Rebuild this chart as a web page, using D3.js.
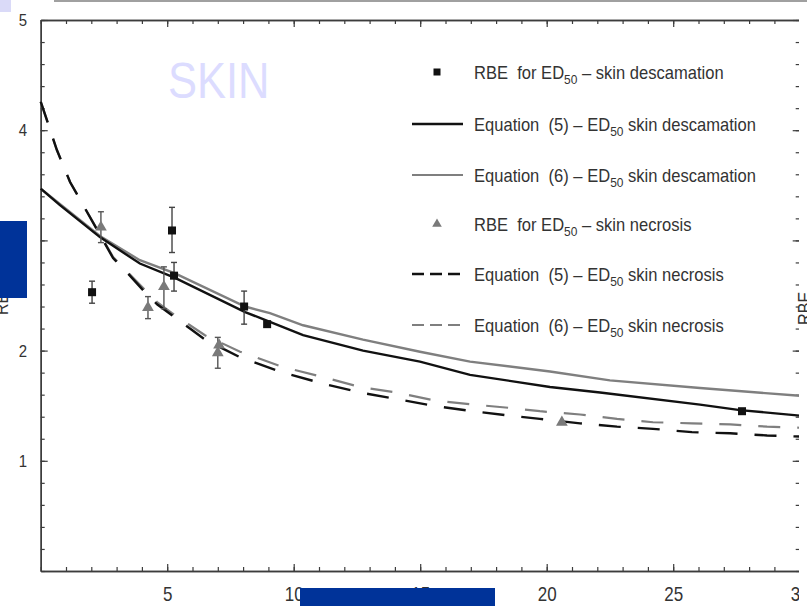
<!DOCTYPE html>
<html>
<head>
<meta charset="utf-8">
<script src="https://cdn.jsdelivr.net/npm/d3@7"></script>
<style>
  body { margin: 0; background: #fff; }
  svg { display: block; }
  text { font-family: "Liberation Sans", Arial, sans-serif; }
</style>
</head>
<body>
<svg id="chart" width="807" height="606"></svg>
<script>
// ---- axis ticks ----
const xMajorTicks = [5, 10, 15, 20, 25, 30];
const yMajorTicks = [1, 2, 3, 4, 5];

// ---- model curves: [dose per fraction, RBE] ----
const eq5Descamation = [[0,3.47],[0.76,3.32],[2.34,3.03],[3.92,2.79],[5.31,2.66],[8.08,2.35],[9.06,2.26],[10.37,2.14],[12.74,2.00],[14.99,1.90],[16.97,1.78],[20.13,1.67],[22.11,1.62],[26.06,1.51],[27.64,1.46],[30,1.41]];
const eq6Descamation = [[0,3.47],[2.34,3.04],[3.92,2.82],[5.31,2.70],[8.08,2.40],[9.06,2.34],[10.37,2.23],[12.74,2.10],[14.99,1.99],[16.97,1.90],[20.13,1.81],[22.5,1.73],[26.06,1.66],[30,1.59]];
const eq5Necrosis = [[0,4.26],[0.64,3.82],[1.16,3.53],[1.63,3.34],[2.86,2.84],[3.45,2.70],[4.0,2.56],[4.6,2.42],[5.19,2.32],[5.9,2.20],[6.49,2.10],[7.88,1.94],[9.58,1.80],[11.16,1.70],[12.62,1.62],[14.08,1.56],[15.5,1.50],[17.09,1.45],[18.55,1.41],[19.73,1.38],[21.32,1.34],[22.78,1.31],[24.2,1.29],[25.74,1.26],[27.25,1.25],[28.71,1.23],[30,1.22]];
const eq6Necrosis = [[0,4.26],[0.64,3.82],[1.16,3.53],[1.63,3.34],[2.86,2.85],[3.45,2.71],[4.0,2.58],[4.6,2.44],[5.19,2.34],[5.9,2.23],[6.49,2.14],[7.88,1.99],[9.58,1.85],[11.16,1.76],[12.62,1.67],[14.08,1.62],[15.5,1.55],[17.09,1.51],[18.55,1.48],[19.73,1.45],[21.32,1.42],[22.78,1.38],[24.2,1.35],[25.74,1.34],[27.25,1.33],[28.71,1.31],[30,1.30]];

// ---- measured RBE values: [dose, RBE, low, high] (null = no error bar) ----
const rbeDescamation = [[2.03,2.53,2.43,2.63],[5.19,3.09,2.89,3.30],[5.27,2.68,2.54,2.80],[8.04,2.40,2.24,2.54],[8.95,2.24,null,null],[27.72,1.45,null,null]];
const rbeNecrosis = [[2.38,3.12,2.98,3.26],[4.24,2.39,2.29,2.49],[4.87,2.58,2.38,2.76],[7.05,2.05,null,null],[7.0,1.98,1.84,2.12],[20.6,1.35,null,null]];

const svg = d3.select("#chart");
const x = d3.scaleLinear().domain([0, 30]).range([40.7, 799.7]);
const y = d3.scaleLinear().domain([0, 5]).range([571, 20]);
const axisColor = "#3c3c3c";
const textColor = "#333";

// ---- frame axes with inward ticks ----
function styleAxis(g) {
  g.selectAll("path.domain").attr("stroke", axisColor).attr("stroke-width", 1.4);
  g.selectAll(".tick line").attr("stroke", axisColor).attr("stroke-width", 1.2);
}
const minorX = d3.range(0, 31, 1);
const minorY = d3.range(0, 5.001, 0.2);

// bottom
svg.append("g").attr("transform", "translate(0,571)")
  .call(d3.axisBottom(x).tickValues(minorX).tickSize(-4).tickSizeOuter(0).tickFormat(""))
  .call(styleAxis);
const bottom = svg.append("g").attr("transform", "translate(0,571)")
  .call(d3.axisBottom(x).tickValues(xMajorTicks).tickSize(-7).tickSizeOuter(0).tickFormat(d3.format("d")))
  .call(styleAxis);
bottom.selectAll("text").attr("y", 30).attr("dy", null)
  .attr("font-size", 20).attr("fill", textColor)
  .attr("font-family", "'Liberation Sans', Arial, sans-serif")
  .attr("transform", "scale(0.85,1)");

// top
svg.append("g").attr("transform", "translate(0,20)")
  .call(d3.axisTop(x).tickValues(minorX).tickSize(-4).tickSizeOuter(0).tickFormat(""))
  .call(styleAxis);
svg.append("g").attr("transform", "translate(0,20)")
  .call(d3.axisTop(x).tickValues(xMajorTicks).tickSize(-7).tickSizeOuter(0).tickFormat(""))
  .call(styleAxis);

// left
svg.append("g").attr("transform", "translate(40.7,0)")
  .call(d3.axisLeft(y).tickValues(minorY).tickSize(-4).tickSizeOuter(0).tickFormat(""))
  .call(styleAxis);
const left = svg.append("g").attr("transform", "translate(40.7,0)")
  .call(d3.axisLeft(y).tickValues(yMajorTicks).tickSize(-7).tickSizeOuter(0).tickPadding(15.5).tickFormat(d3.format("d")))
  .call(styleAxis);
left.selectAll("text").attr("font-size", 17).attr("fill", textColor)
  .attr("font-family", "'Liberation Sans', Arial, sans-serif")
  .attr("transform", "scale(0.88,1)");

// right
svg.append("g").attr("transform", "translate(799.7,0)")
  .call(d3.axisRight(y).tickValues(minorY).tickSize(-4).tickSizeOuter(0).tickFormat(""))
  .call(styleAxis);
svg.append("g").attr("transform", "translate(799.7,0)")
  .call(d3.axisRight(y).tickValues(yMajorTicks).tickSize(-7).tickSizeOuter(0).tickFormat(""))
  .call(styleAxis);

// ---- curves ----
const line = d3.line().x(d => x(d[0])).y(d => y(d[1]));
const plot = svg.append("g");
const dash = "22,17";
plot.append("path").datum(eq6Necrosis).attr("d", line).attr("fill", "none")
  .attr("stroke", "#7f7f7f").attr("stroke-width", 2.2).attr("stroke-dasharray", dash);
plot.append("path").datum(eq5Necrosis).attr("d", line).attr("fill", "none")
  .attr("stroke", "#111").attr("stroke-width", 2.4).attr("stroke-dasharray", dash);
plot.append("path").datum(eq6Descamation).attr("d", line).attr("fill", "none")
  .attr("stroke", "#7f7f7f").attr("stroke-width", 2.4);
plot.append("path").datum(eq5Descamation).attr("d", line).attr("fill", "none")
  .attr("stroke", "#111").attr("stroke-width", 2.4);

// ---- error bars ----
function errorBars(data, color) {
  const withErr = data.filter(d => d[2] !== null);
  const g = plot.append("g").attr("stroke", color).attr("stroke-width", 1.4);
  g.selectAll("line.v").data(withErr).join("line")
    .attr("x1", d => x(d[0])).attr("x2", d => x(d[0]))
    .attr("y1", d => y(d[2])).attr("y2", d => y(d[3]));
  g.selectAll("line.lo").data(withErr).join("line")
    .attr("x1", d => x(d[0]) - 3).attr("x2", d => x(d[0]) + 3)
    .attr("y1", d => y(d[2])).attr("y2", d => y(d[2]));
  g.selectAll("line.hi").data(withErr).join("line")
    .attr("x1", d => x(d[0]) - 3).attr("x2", d => x(d[0]) + 3)
    .attr("y1", d => y(d[3])).attr("y2", d => y(d[3]));
}
errorBars(rbeDescamation, "#444");
errorBars(rbeNecrosis, "#555");

// ---- markers ----
const triSym = d3.symbol().type(d3.symbolTriangle).size(60);
plot.append("g").selectAll("path").data(rbeNecrosis).join("path")
  .attr("d", triSym)
  .attr("transform", d => `translate(${x(d[0])},${y(d[1])})`)
  .attr("fill", "#7a7a7a");
plot.append("g").selectAll("rect").data(rbeDescamation).join("rect")
  .attr("x", d => x(d[0]) - 4).attr("y", d => y(d[1]) - 4)
  .attr("width", 8).attr("height", 8).attr("fill", "#111");

// ---- legend ----
const legendItems = [
  { kind: "square", head: "RBE  for ED", tail: " – skin descamation" },
  { kind: "solid", color: "#111", head: "Equation  (5) – ED", tail: " skin descamation" },
  { kind: "solid", color: "#7f7f7f", head: "Equation  (6) – ED", tail: " skin descamation" },
  { kind: "triangle", head: "RBE  for ED", tail: " – skin necrosis" },
  { kind: "dashed", color: "#111", head: "Equation  (5) – ED", tail: " skin necrosis" },
  { kind: "dashed", color: "#7f7f7f", head: "Equation  (6) – ED", tail: " skin necrosis" }
];
const legendBaselines = [79, 131, 182, 231, 281, 332];
const legend = svg.append("g");
legendItems.forEach((item, i) => {
  const by = legendBaselines[i];
  const sy = by - 7;
  if (item.kind === "square") {
    legend.append("rect").attr("x", 433.5).attr("y", sy - 3.5).attr("width", 7).attr("height", 7).attr("fill", "#111");
  } else if (item.kind === "triangle") {
    legend.append("path").attr("d", d3.symbol().type(d3.symbolTriangle).size(40)())
      .attr("transform", `translate(437,${sy})`).attr("fill", "#7a7a7a");
  } else {
    legend.append("line").attr("x1", 412).attr("x2", 463).attr("y1", sy).attr("y2", sy)
      .attr("stroke", item.color).attr("stroke-width", item.color === "#111" ? 2.4 : 2)
      .attr("stroke-dasharray", item.kind === "dashed" ? "12,6" : null);
  }
  const t = legend.append("text")
    .attr("transform", `translate(474,${by}) scale(0.92,1)`)
    .attr("font-size", 18).attr("fill", textColor)
    .style("white-space", "pre");
  t.append("tspan").text(item.head);
  t.append("tspan").attr("font-size", 13).attr("dy", 5).text("50");
  t.append("tspan").attr("dy", -5).text(item.tail);
});

// ---- title ----
svg.append("text").attr("transform", "translate(168,98) scale(0.87,1)")
  .attr("font-size", 50).attr("fill", "#dcdcff").text("SKIN");

// ---- axis titles ----
svg.append("text").attr("transform", "translate(8,315) rotate(-90) scale(0.88,1)")
  .attr("font-size", 18).attr("fill", textColor).text("RBE");

// right margin panel
svg.append("rect").attr("x", 799).attr("y", 0).attr("width", 8).attr("height", 606).attr("fill", "#fff");
svg.append("text").attr("transform", "translate(811,325) rotate(-90) scale(0.9,1)")
  .attr("font-size", 18).attr("fill", textColor).text("RBE");

// ---- slide decorations ----
svg.append("rect").attr("x", 0).attr("y", 221).attr("width", 27).attr("height", 77).attr("fill", "#003399");
svg.append("rect").attr("x", 300).attr("y", 588).attr("width", 195).attr("height", 18).attr("fill", "#003399");
svg.append("rect").attr("x", 0).attr("y", 0).attr("width", 11).attr("height", 12).attr("fill", "#dadaf8");
svg.append("line").attr("x1", 54).attr("x2", 807).attr("y1", 1).attr("y2", 1)
  .attr("stroke", "#a0a0a0").attr("stroke-width", 2);
</script>
</body>
</html>
